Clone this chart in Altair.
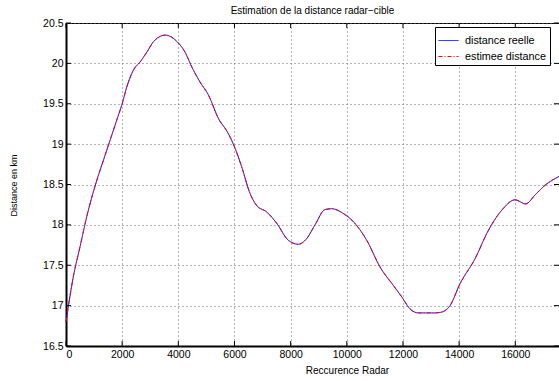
import altair as alt
import pandas as pd

# Radar range samples (recurrence index, distance in km)
recurrence = [0, 262, 500, 738, 1095, 1333, 1571, 1810, 2000, 2167, 2405, 2643,
              2881, 3119, 3536, 3952, 4238, 4475, 4772, 5069, 5425, 5781, 6019,
              6256, 6553, 6791, 7147, 7503, 7916, 8273, 8571, 8867, 9224, 9461,
              9877, 10233, 10708, 11182, 11657, 11953, 12251, 12547, 13141,
              13379, 13675, 14031, 14565, 15040, 15515, 15990, 16371, 16702,
              17059, 17557]
distance_reelle = [16.80, 17.36, 17.73, 18.10, 18.55, 18.80, 19.05, 19.30, 19.50,
                   19.71, 19.92, 20.02, 20.14, 20.27, 20.35, 20.27, 20.14, 19.96,
                   19.77, 19.61, 19.32, 19.13, 18.95, 18.72, 18.39, 18.24, 18.16,
                   18.02, 17.81, 17.76, 17.83, 18.00, 18.19, 18.20, 18.14, 18.04,
                   17.81, 17.48, 17.25, 17.11, 16.96, 16.91, 16.91, 16.92, 17.00,
                   17.27, 17.58, 17.93, 18.18, 18.31, 18.26, 18.37, 18.49, 18.60]
distance_estimee = list(distance_reelle)

series_names = ["distance reelle", "estimee distance"]
series_colors = ["#0000ff", "#ff0000"]
series_dash = [[1, 0], [4, 2, 1, 2]]

x_ticks = [0, 2000, 4000, 6000, 8000, 10000, 12000, 14000, 16000]
y_ticks = [16.5, 17, 17.5, 18, 18.5, 19, 19.5, 20, 20.5]
x_max = 17557

W, H = 493, 323
FONT = "Liberation Sans"

df = pd.concat([
    pd.DataFrame({"k": recurrence, "d": distance_reelle, "serie": series_names[0], "o": 0}),
    pd.DataFrame({"k": recurrence, "d": distance_estimee, "serie": series_names[1], "o": 1}),
])

xscale = alt.Scale(domain=[0, x_max], nice=False, zero=False)
yscale = alt.Scale(domain=[16.5, 20.5], nice=False, zero=False)

x_title = "Reccurence Radar"
y_title = "Distance en km"
x_axis = alt.Axis(values=x_ticks, format="d", title=x_title,
                  titleX=281, titleY=24, titleBaseline="middle", titleAlign="center")
y_axis = alt.Axis(values=y_ticks, format="~g", title=y_title,
                  titleX=-53, titleY=162, titleAngle=270,
                  titleAlign="center", titleBaseline="middle", titleFontSize=9)

legend_opts = dict(title=None, orient="none", legendX=369, legendY=4)

lines = alt.Chart(df).mark_line(strokeWidth=1, interpolate="monotone").encode(
    x=alt.X("k:Q", scale=xscale, axis=x_axis),
    y=alt.Y("d:Q", scale=yscale, axis=y_axis),
    color=alt.Color("serie:N", scale=alt.Scale(domain=series_names, range=series_colors),
                    legend=alt.Legend(**legend_opts)),
    strokeDash=alt.StrokeDash("serie:N", scale=alt.Scale(domain=series_names, range=series_dash),
                              legend=alt.Legend(**legend_opts)),
    order=alt.Order("o:Q"),
)

xt = pd.DataFrame({"v": x_ticks})
yt = pd.DataFrame({"v": y_ticks})
tick_style = dict(color="black", strokeWidth=1)

# Inward-pointing tick marks on all four sides
bottom_ticks = alt.Chart(xt).mark_rule(**tick_style).encode(
    x=alt.X("v:Q", scale=xscale, axis=x_axis), y=alt.value(H), y2=alt.value(H - 5))
top_ticks = alt.Chart(xt).mark_rule(**tick_style).encode(
    x=alt.X("v:Q", scale=xscale, axis=x_axis), y=alt.value(0), y2=alt.value(5))
left_ticks = alt.Chart(yt).mark_rule(**tick_style).encode(
    y=alt.Y("v:Q", scale=yscale, axis=y_axis), x=alt.value(0), x2=alt.value(5))
right_ticks = alt.Chart(yt).mark_rule(**tick_style).encode(
    y=alt.Y("v:Q", scale=yscale, axis=y_axis), x=alt.value(W), x2=alt.value(W - 5))

chart = alt.layer(lines, bottom_ticks, top_ticks, left_ticks, right_ticks).properties(
    width=W, height=H,
    title=alt.TitleParams("Estimation de la distance radar\u2212cible", fontSize=10,
                          fontWeight="normal", font=FONT, color="black",
                          anchor="middle", offset=2),
    autosize=alt.AutoSizeParams(type="none"),
    padding={"left": 66, "top": 23, "right": 0, "bottom": 35},
).configure_view(
    stroke="black", strokeWidth=1,
).configure_axis(
    labelFont=FONT, labelFontSize=10.5, labelColor="black",
    titleFont=FONT, titleFontSize=10, titleFontWeight="normal", titleColor="black",
    ticks=False, labelPadding=3,
    domainColor="black", domainWidth=2,
    grid=True, gridColor="#666666", gridDash=[1, 3], gridWidth=1, gridOpacity=1,
).configure_legend(
    strokeColor="black", fillColor="white", padding=3,
    labelFont=FONT, labelFontSize=10.8, labelColor="black", labelOffset=6,
    symbolType="stroke", symbolSize=400, symbolStrokeWidth=1, rowPadding=0,
)

chart.save("out.html", embed_options={"renderer": "svg", "actions": False})
